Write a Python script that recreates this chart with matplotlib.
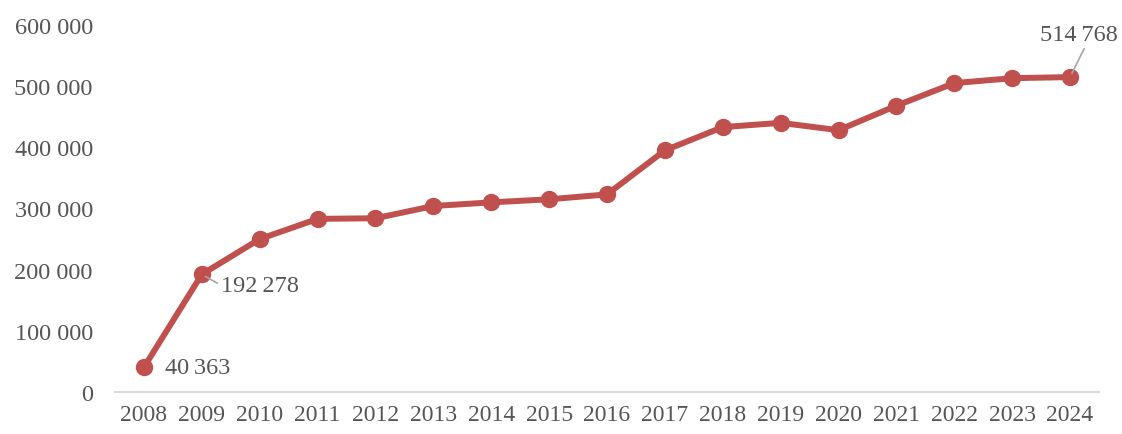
import matplotlib.pyplot as plt
from matplotlib.ticker import FuncFormatter

years = [2008, 2009, 2010, 2011, 2012, 2013, 2014, 2015, 2016,
         2017, 2018, 2019, 2020, 2021, 2022, 2023, 2024]
values = [40363, 192278, 250000, 283000, 284000, 304000, 310000, 315000, 323000,
          395000, 433000, 440000, 428000, 468000, 505000, 513000, 514768]
# labelled points: index -> (offset in points, ha, relpos of leader)
labelled = {0: ((15, 0), "left", None),
            1: ((14, -8), "left", (0, 0.5)),
            16: ((6, 31), "center", (0.6, 0))}

plt.rcParams['font.family'] = ['Liberation Serif', 'DejaVu Serif']
txtcol = "#555555"
red = "#C0504D"

fig = plt.figure(figsize=(11.22, 4.35), dpi=100)
ax = fig.add_axes([0.1025, 0.0966, 0.877, 0.8437])

x = list(range(len(years)))
ax.plot(x, values, '-o', color=red, lw=4.3, ms=11.5, solid_capstyle='round')

for i, (off, ha, rel) in labelled.items():
    lab = "{:,}".format(values[i]).replace(",", "\u2009")
    arrow = None
    if rel is not None:
        arrow = dict(arrowstyle='-', color="#A6A6A6", lw=1.2,
                     shrinkA=1, shrinkB=3, relpos=rel)
    ax.annotate(lab, (x[i], values[i]), xytext=off, textcoords="offset points",
                ha=ha, va="center", fontsize=17.5, color=txtcol, arrowprops=arrow)

ax.set_xlim(-0.5, len(years) - 0.5)
ax.set_ylim(0, 600000)
ax.set_yticks(range(0, 600001, 100000))
ax.yaxis.set_major_formatter(FuncFormatter(lambda v, p: "{:,}".format(int(v)).replace(",", " ")))
ax.set_xticks(x)
ax.set_xticklabels([str(y) for y in years])

for s in ["top", "right", "left"]:
    ax.spines[s].set_visible(False)
ax.spines["bottom"].set_color("#D9D9D9")
ax.spines["bottom"].set_linewidth(1.5)
ax.tick_params(axis="y", length=0, pad=16, labelsize=17.5, labelcolor=txtcol)
ax.tick_params(axis="x", length=0, pad=9, labelsize=17, labelcolor=txtcol)

fig.savefig("out.png", dpi=100)
